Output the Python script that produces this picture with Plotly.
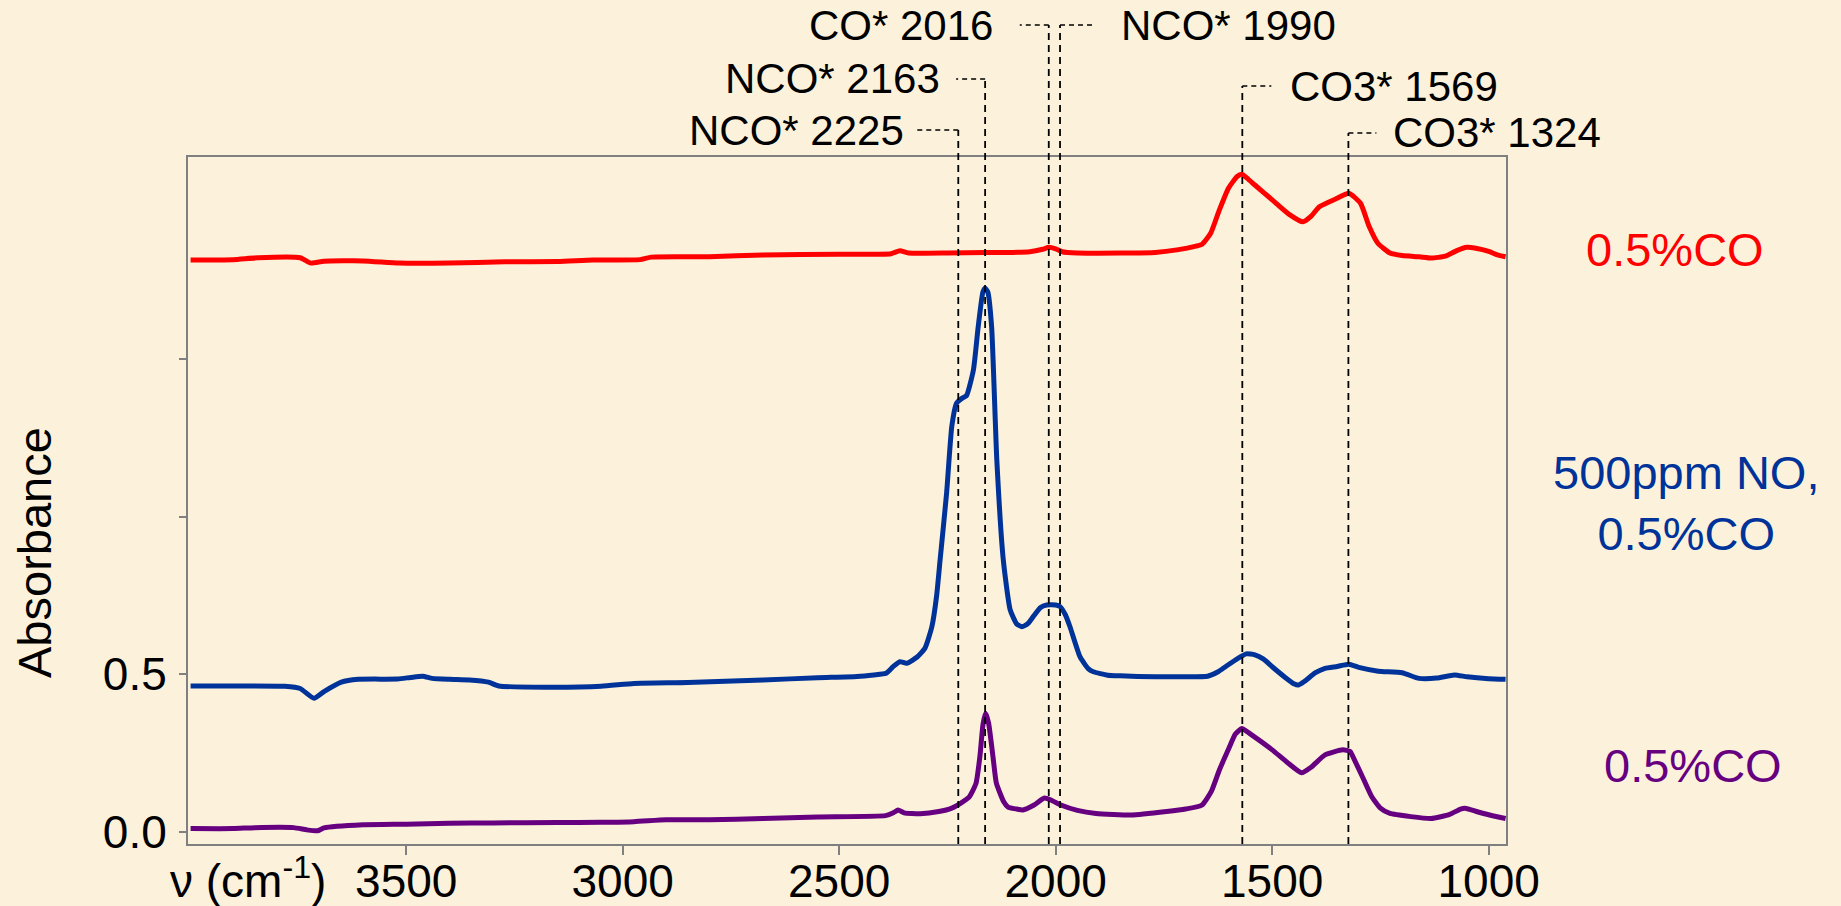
import plotly.graph_objects as go

# ---------------- data ----------------
red_w = [3998, 3900, 3842, 3745, 3720, 3690, 3600, 3516, 3400, 3272, 3150, 3069, 2960, 2934, 2800,
         2676, 2500, 2380, 2360, 2340, 2250, 2163, 2100, 2060, 2030, 2016, 2000, 1985, 1950, 1850,
         1770, 1720, 1676, 1662, 1642, 1622, 1601, 1581, 1570, 1555, 1540, 1500, 1459, 1429, 1410,
         1391, 1350, 1323, 1296, 1276, 1256, 1228, 1200, 1160, 1133, 1100, 1075, 1050, 1030, 1000,
         980, 961]
red_v = [1.816, 1.817, 1.823, 1.823, 1.806, 1.812, 1.813, 1.806, 1.806, 1.810, 1.811, 1.816, 1.817,
         1.825, 1.826, 1.832, 1.834, 1.836, 1.845, 1.838, 1.838, 1.840, 1.840, 1.842, 1.850, 1.856,
         1.851, 1.842, 1.838, 1.838, 1.840, 1.848, 1.860, 1.866, 1.901, 1.975, 2.044, 2.081, 2.088,
         2.072, 2.054, 2.007, 1.959, 1.937, 1.955, 1.985, 2.012, 2.028, 1.996, 1.922, 1.869, 1.838,
         1.830, 1.826, 1.822, 1.828, 1.845, 1.856, 1.853, 1.843, 1.832, 1.826]

blue_w = [3998, 3900, 3780, 3745, 3713, 3690, 3650, 3611, 3520, 3490, 3462, 3440, 3400, 3354, 3310,
          3286, 3178, 3050, 2974, 2850, 2676, 2550, 2459, 2420, 2392, 2375, 2360, 2344, 2320, 2302,
          2286, 2275, 2267, 2252, 2240, 2229, 2215, 2206, 2190, 2179, 2168, 2163, 2157, 2148, 2136,
          2121, 2105, 2090, 2078, 2065, 2052, 2035, 2021, 2000, 1990, 1978, 1967, 1944, 1925, 1913,
          1880, 1851, 1771, 1700, 1649, 1625, 1608, 1580, 1560, 1540, 1520, 1500, 1470, 1450, 1439,
          1425, 1400, 1378, 1350, 1323, 1300, 1255, 1200, 1161, 1120, 1079, 1050, 1000, 961]
blue_v = [0.463, 0.463, 0.462, 0.455, 0.424, 0.445, 0.475, 0.484, 0.485, 0.490, 0.494, 0.487, 0.484,
          0.482, 0.475, 0.463, 0.459, 0.462, 0.471, 0.474, 0.482, 0.489, 0.493, 0.498, 0.503, 0.525,
          0.540, 0.535, 0.555, 0.583, 0.651, 0.750, 0.863, 1.075, 1.287, 1.361, 1.378, 1.385, 1.467,
          1.604, 1.715, 1.726, 1.715, 1.604, 1.181, 0.863, 0.704, 0.660, 0.651, 0.660, 0.683, 0.712,
          0.720, 0.720, 0.715, 0.690, 0.651, 0.556, 0.518, 0.508, 0.497, 0.495, 0.492, 0.492, 0.494,
          0.508, 0.524, 0.550, 0.565, 0.562, 0.548, 0.524, 0.490, 0.470, 0.466, 0.478, 0.505, 0.519,
          0.525, 0.532, 0.522, 0.510, 0.505, 0.487, 0.488, 0.498, 0.492, 0.486, 0.484]

purple_w = [3998, 3900, 3850, 3760, 3730, 3705, 3690, 3600, 3500, 3400, 3300, 3150, 3050, 2974, 2900,
            2800, 2676, 2550, 2393, 2375, 2364, 2350, 2313, 2270, 2240, 2219, 2200, 2184, 2175, 2168,
            2162, 2155, 2145, 2137, 2120, 2110, 2090, 2076, 2050, 2026, 2010, 1988, 1950, 1907, 1825,
            1744, 1700, 1662, 1640, 1622, 1600, 1585, 1570, 1550, 1500, 1465, 1432, 1410, 1378, 1337,
            1320, 1310, 1290, 1270, 1250, 1228, 1180, 1133, 1090, 1065, 1052, 1030, 998, 961]
purple_v = [0.010, 0.010, 0.013, 0.013, 0.006, 0.003, 0.012, 0.022, 0.024, 0.027, 0.028, 0.029, 0.030,
            0.032, 0.038, 0.038, 0.042, 0.047, 0.051, 0.060, 0.069, 0.060, 0.057, 0.064, 0.075, 0.091,
            0.110, 0.154, 0.240, 0.340, 0.376, 0.345, 0.240, 0.154, 0.095, 0.078, 0.072, 0.069, 0.085,
            0.107, 0.100, 0.085, 0.068, 0.058, 0.053, 0.064, 0.072, 0.085, 0.130, 0.196, 0.265, 0.310,
            0.328, 0.310, 0.260, 0.220, 0.187, 0.205, 0.244, 0.260, 0.255, 0.228, 0.170, 0.111, 0.075,
            0.058, 0.048, 0.042, 0.055, 0.072, 0.074, 0.065, 0.053, 0.042]

series_names = ["0.5%CO", "500ppm NO,<br>0.5%CO", "0.5%CO"]

peak_names = ["NCO* 2225", "NCO* 2163", "CO* 2016", "NCO* 1990", "CO3* 1569", "CO3* 1324"]
peak_pos = [2225, 2163, 2016, 1990, 1569, 1324]

x_ticks = [3500, 3000, 2500, 2000, 1500, 1000]
y_ticks = [0.0, 0.5]
y_ticktext = ["0.0", "0.5"]
y_minor_ticks = [1.0, 1.5]

# ---------------- styling / layout ----------------
W, H = 1841, 906
L, R, T, B = 188, 335, 157, 62
PW, PH = W - L - R, H - T - B
BG = "#FCF2DB"
FONT = "Liberation Sans, Arial, sans-serif"
RED, BLUE, PURPLE = "#FF0000", "#003399", "#660080"
AXC = "#808080"


def py(pix_y):
    """pixel row -> paper y"""
    return (H - B - pix_y) / PH


def px(pix_x):
    return (pix_x - L) / PW


fig = go.Figure()
for w, v, c in [(red_w, red_v, RED), (blue_w, blue_v, BLUE), (purple_w, purple_v, PURPLE)]:
    fig.add_trace(go.Scatter(x=w, y=v, mode="lines",
                             line=dict(color=c, width=5, shape="spline", smoothing=0.5),
                             showlegend=False, hoverinfo="skip"))

# peak marker layout: (connector row in px, side, connector length px, text gap px)
peak_style = [(130, "left", 44, 8), (79, "left", 29, 14), (25, "left", 29, 25),
              (25, "right", 33, 26), (86, "right", 29, 17), (133, "right", 28, 15)]

shapes = []
annotations = []
for name, pos, (row, side, clen, gap) in zip(peak_names, peak_pos, peak_style):
    ytop = py(row)
    shapes.append(dict(type="line", xref="x", yref="paper", x0=pos, x1=pos, y0=0, y1=ytop,
                       line=dict(color="black", width=1.8, dash="7px,5px"), layer="above"))
    sgn = -1 if side == "left" else 1
    shapes.append(dict(type="line", xref="x", yref="paper", xsizemode="pixel", xanchor=pos,
                       x0=0, x1=sgn * clen, y0=ytop, y1=ytop,
                       line=dict(color="black", width=1.6, dash="5px,4px")))
    annotations.append(dict(x=pos, xref="x", y=ytop, yref="paper", text=name, showarrow=False,
                            xanchor="right" if side == "left" else "left", yanchor="middle",
                            xshift=sgn * (clen + gap),
                            font=dict(family=FONT, size=42, color="black")))

# series labels on the right
for text, color, cx, cy in [(series_names[0], RED, 1675, 249),
                            (series_names[1], BLUE, 1686, 503),
                            (series_names[2], PURPLE, 1693, 765)]:
    annotations.append(dict(x=px(cx), xref="paper", y=py(cy), yref="paper", text=text,
                            showarrow=False, xanchor="center", yanchor="middle",
                            font=dict(family=FONT, size=47, color=color)))

# axis titles
annotations.append(dict(x=px(34), xref="paper", y=py(553), yref="paper", text="Absorbance",
                        textangle=-90, showarrow=False, xanchor="center", yanchor="middle",
                        font=dict(family=FONT, size=47, color="black")))
annotations.append(dict(x=px(248), xref="paper", y=py(878), yref="paper",
                        text="ν (cm<sup>-1</sup>)", showarrow=False, xanchor="center",
                        yanchor="middle", font=dict(family=FONT, size=46, color="black")))

fig.update_layout(
    template="none",
    width=W, height=H,
    margin=dict(l=L, r=R, t=T, b=B, pad=0, autoexpand=False),
    paper_bgcolor=BG, plot_bgcolor=BG,
    shapes=shapes, annotations=annotations,
    font=dict(family=FONT, size=46, color="black"),
)
fig.update_xaxes(range=[4004, 960], tickvals=x_ticks, ticks="outside", ticklen=9, tickwidth=1.5,
                 tickcolor=AXC, showline=True, linecolor=AXC, linewidth=2, mirror=True,
                 showgrid=False, zeroline=False, ticklabelstandoff=-13, automargin=False,
                 tickfont=dict(family=FONT, size=46, color="black"))
fig.update_yaxes(range=[-0.039, 2.143], tickvals=y_ticks, ticktext=y_ticktext, ticks="outside",
                 ticklen=7, tickwidth=1.5, tickcolor=AXC, showline=True, linecolor=AXC,
                 linewidth=2, mirror=True, showgrid=False, zeroline=False, ticklabelstandoff=3,
                 automargin=False,
                 minor=dict(tickvals=y_minor_ticks, ticks="outside", ticklen=7, tickwidth=1.5,
                            tickcolor=AXC, showgrid=False),
                 tickfont=dict(family=FONT, size=46, color="black"))

fig.write_html("out.html")
